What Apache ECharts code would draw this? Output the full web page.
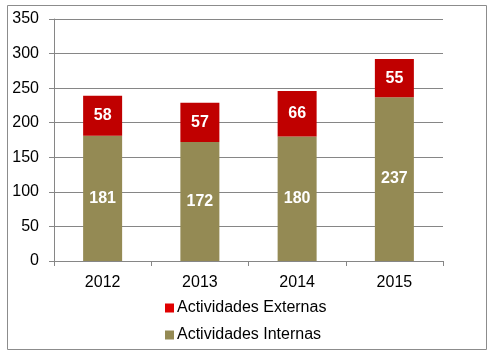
<!DOCTYPE html>
<html>
<head>
<meta charset="utf-8">
<script src="https://cdn.jsdelivr.net/npm/echarts@6/dist/echarts.min.js"></script>
<style>
  body { margin: 0; padding: 0; background: #fff; }
  #main { width: 492px; height: 354px; }
</style>
</head>
<body>
<div id="main"></div>
<script>
// datos del gráfico
var years = ['2012', '2013', '2014', '2015'];
var internas = [181, 172, 180, 237];
var externas = [58, 57, 66, 55];
var yTicks = [0, 50, 100, 150, 200, 250, 300, 350];

var FONT = '"Liberation Sans", Arial, sans-serif';

var chart = echarts.init(document.getElementById('main'));
chart.setOption({
  animation: false,
  graphic: [{
    type: 'rect',
    shape: { x: 7.5, y: 5.5, width: 479, height: 344 },
    style: { fill: 'none', stroke: '#8c8c8c', lineWidth: 1 }
  }],
  grid: { left: 54, right: 49, top: 19, bottom: 93 },
  legend: {
    orient: 'vertical',
    left: 160,
    top: 295,
    itemWidth: 9,
    itemHeight: 9,
    itemGap: 11,
    icon: 'rect',
    data: [
      { name: 'Actividades Externas', itemStyle: { color: '#E00000' } },
      { name: 'Actividades Internas', itemStyle: { color: '#948A54' } }
    ],
    textStyle: { fontFamily: FONT, fontSize: 16, color: '#000', padding: [0, 0, 0, -2] }
  },
  xAxis: {
    type: 'category',
    data: years,
    axisLine: { lineStyle: { color: '#868686' } },
    axisTick: { show: true, length: 5, lineStyle: { color: '#868686' } },
    axisLabel: { fontFamily: FONT, fontSize: 16, color: '#000', margin: 14 }
  },
  yAxis: {
    type: 'value',
    min: yTicks[0],
    max: yTicks[yTicks.length - 1],
    interval: 50,
    axisLine: { show: true, lineStyle: { color: '#868686' } },
    axisTick: { show: true, length: 5, lineStyle: { color: '#868686' } },
    axisLabel: { fontFamily: FONT, fontSize: 16, color: '#000', margin: 15 },
    splitLine: { lineStyle: { color: '#868686' } }
  },
  series: [{
    name: 'Actividades Internas',
    type: 'bar',
    stack: 'total',
    data: internas,
    barWidth: 39,
    itemStyle: { color: '#948A54' },
    label: { show: true, position: 'inside', color: '#fff', fontWeight: 'bold', fontSize: 16, fontFamily: FONT }
  }, {
    name: 'Actividades Externas',
    type: 'bar',
    stack: 'total',
    data: externas,
    barWidth: 39,
    itemStyle: { color: '#C00000' },
    label: { show: true, position: 'inside', color: '#fff', fontWeight: 'bold', fontSize: 16, fontFamily: FONT }
  }]
});
</script>
</body>
</html>
